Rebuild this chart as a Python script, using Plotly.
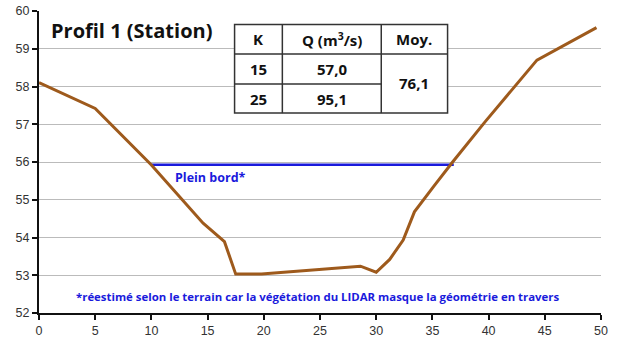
import plotly.graph_objects as go

# Cross-section profile: distance (m) and ground elevation (m)
distance = [0, 5, 10, 12.5, 14.6, 16.5, 17.5, 19.8, 25, 28.6, 30.0, 31.2, 32.4, 33.4, 35.1, 36.8, 39.7, 44.3, 49.6]
elevation = [58.10, 57.42, 55.92, 55.08, 54.38, 53.89, 53.03, 53.03, 53.16, 53.24, 53.08, 53.42, 53.93, 54.68, 55.35, 56.00, 57.07, 58.70, 59.56]

# Bankfull level
bankfull_x = [10.0, 36.9]
bankfull_level = 55.93

# Discharge table
k_values = [15, 25]
q_values = [57.0, 95.1]
q_mean = 76.1

x_ticks = [0, 5, 10, 15, 20, 25, 30, 35, 40, 45, 50]
y_ticks = [52, 53, 54, 55, 56, 57, 58, 59, 60]

brown = "#9E5A1C"
blue = "#1A1ADC"
label_font = "Open Sans"


def fr(v):
    return f"{v:.1f}".replace(".", ",")


fig = go.Figure()
fig.add_trace(go.Scatter(
    x=bankfull_x, y=[bankfull_level] * len(bankfull_x), mode="lines",
    line=dict(color=blue, width=2.5), hoverinfo="skip", showlegend=False))
fig.add_trace(go.Scatter(
    x=distance, y=elevation, mode="lines",
    line=dict(color=brown, width=3), showlegend=False))

# Table drawn in paper coordinates
tx = [0.348, 0.433, 0.609, 0.727]   # column borders
ty = [0.955, 0.858, 0.758, 0.662]   # row borders (top to bottom)
line_style = dict(color="#333333", width=1.5)
shapes = [dict(type="rect", xref="paper", yref="paper", x0=tx[0], x1=tx[3], y0=ty[3], y1=ty[0],
               fillcolor="white", line=line_style, layer="above")]
for xv in tx[1:3]:
    shapes.append(dict(type="line", xref="paper", yref="paper", x0=xv, x1=xv, y0=ty[3], y1=ty[0],
                       line=line_style, layer="above"))
shapes.append(dict(type="line", xref="paper", yref="paper", x0=tx[0], x1=tx[3], y0=ty[1], y1=ty[1],
                   line=line_style, layer="above"))
shapes.append(dict(type="line", xref="paper", yref="paper", x0=tx[0], x1=tx[2], y0=ty[2], y1=ty[2],
                   line=line_style, layer="above"))

annotations = []


def cell(text, x0, x1, y0, y1):
    annotations.append(dict(text=text, xref="paper", yref="paper",
                            x=(x0 + x1) / 2, y=(y0 + y1) / 2, xanchor="center", yanchor="middle",
                            showarrow=False,
                            font=dict(family=label_font, size=15, color="#111111", weight="bold")))


cell("K", tx[0], tx[1], ty[1], ty[0])
cell("Q (m<sup>3</sup>/s)", tx[1], tx[2], ty[1], ty[0])
cell("Moy.", tx[2], tx[3], ty[1], ty[0])
cell(str(k_values[0]), tx[0], tx[1], ty[2], ty[1])
cell(fr(q_values[0]), tx[1], tx[2], ty[2], ty[1])
cell(str(k_values[1]), tx[0], tx[1], ty[3], ty[2])
cell(fr(q_values[1]), tx[1], tx[2], ty[3], ty[2])
cell(fr(q_mean), tx[2], tx[3], ty[3], ty[1])

annotations.append(dict(text="Profil 1 (Station)", xref="paper", yref="paper",
                        x=0.017, y=0.936, xanchor="left", yanchor="middle", showarrow=False,
                        font=dict(family=label_font, size=20, color="#111111", weight="bold")))
annotations.append(dict(text="Plein bord*", x=15.3, y=55.6, showarrow=False,
                        font=dict(family=label_font, size=12.5, color=blue, weight="bold")))
annotations.append(dict(text="*réestimé selon le terrain car la végétation du LIDAR masque la géométrie en travers",
                        x=24.8, y=52.45, showarrow=False,
                        font=dict(family=label_font, size=11.4, color=blue, weight="bold")))

fig.update_layout(
    width=618, height=338,
    margin=dict(l=39, r=17, t=11, b=25, autoexpand=False),
    paper_bgcolor="white", plot_bgcolor="white",
    shapes=shapes, annotations=annotations,
    xaxis=dict(range=[0, 50], tickvals=x_ticks, showgrid=False, zeroline=False, automargin=False,
               showline=True, linecolor="#111111", linewidth=2,
               ticks="outside", ticklen=5, tickwidth=2, tickcolor="#111111",
               tickfont=dict(family="Liberation Sans, Arial", size=12.5, color="#333333")),
    yaxis=dict(range=[52, 60], tickvals=y_ticks, showgrid=True, gridcolor="#BBBBBB", gridwidth=1.2,
               zeroline=False, showline=True, linecolor="#111111", linewidth=2, automargin=False,
               ticks="outside", ticklen=5, tickwidth=2, tickcolor="#111111",
               tickfont=dict(family="Liberation Sans, Arial", size=12.5, color="#333333")),
)

fig.write_html("out.html")
